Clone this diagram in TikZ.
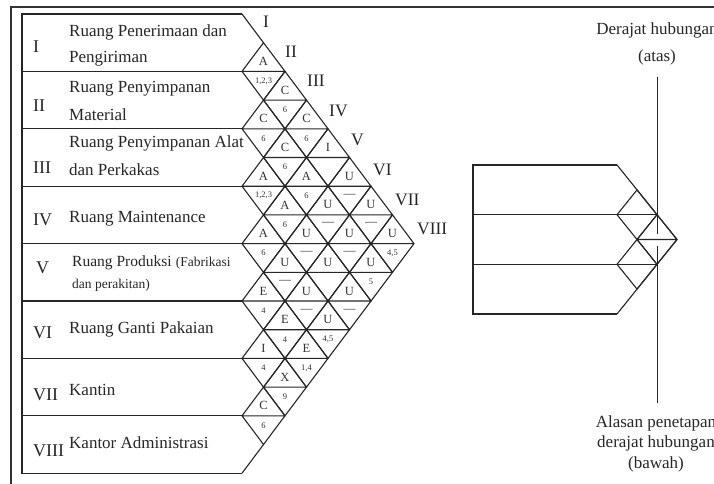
\documentclass[tikz,border=0pt]{standalone}
\usepackage{fontspec}
\setmainfont{Liberation Serif}
\newcommand\arcdash{\raisebox{-1pt}{\fontsize{12}{12}\selectfont —}}
\begin{document}
\begin{tikzpicture}[x=1pt,y=-1pt,
  ln/.style={line width=1.1pt, draw=black!85, line join=miter},
  thinln/.style={line width=0.9pt, draw=black!85},
  rowtxt/.style={anchor=base west, inner sep=0, text=black!85, font=\fontsize{17}{20}\selectfont},
  numtxt/.style={anchor=base west, inner sep=0, text=black!85, font=\fontsize{18}{20}\selectfont},
  coltxt/.style={anchor=base west, inner sep=0, text=black!85, font=\fontsize{17.5}{20}\selectfont},
  rel/.style={inner sep=0, text=black!80, font=\fontsize{12.5}{13}\selectfont},
  why/.style={inner sep=0, text=black!80, font=\fontsize{8.5}{9}\selectfont},
  side/.style={anchor=base, inner sep=0, text=black!85, font=\fontsize{17}{20}\selectfont}]
\useasboundingbox (0,0) rectangle (714,484);
\fill[white] (0,0) rectangle (714,484);
% outer frame
\draw[line width=1.8pt, black!80] (11,495) -- (11,7) -- (725,7);
% row box
\draw[ln] (242,14) -- (22,14) -- (22,473.2) -- (242,473.2);
\foreach \k in {1,...,7} \draw[ln] (22,14+57.4*\k) -- (242,14+57.4*\k);
% outer edges of the chart
\draw[ln] (242,14) -- (263.5,42.7);
\draw[ln] (242,473.2) -- (263.5,444.5);
% diamonds
\foreach \i/\j/\rl/\rs in {1/2/A/{1,2,3}, 1/3/C/6, 1/4/C/6, 1/5/I/{}, 1/6/U/\arcdash, 1/7/U/\arcdash, 1/8/U/{4,5},
  2/3/C/6, 2/4/C/6, 2/5/A/6, 2/6/U/\arcdash, 2/7/U/\arcdash, 2/8/U/5,
  3/4/A/{1,2,3}, 3/5/A/6, 3/6/U/\arcdash, 3/7/U/{}, 3/8/U/\arcdash,
  4/5/A/6, 4/6/U/\arcdash, 4/7/U/\arcdash, 4/8/U/{4,5},
  5/6/E/4, 5/7/E/4, 5/8/E/{1,4},
  6/7/I/4, 6/8/X/9,
  7/8/C/6}{
  \pgfmathsetmacro\cx{242+21.5*(\j-\i)}
  \pgfmathsetmacro\cy{14+28.7*(\i+\j-1)}
  \draw[ln] (\cx-21.5,\cy) -- (\cx,\cy-28.7) -- (\cx+21.5,\cy) -- (\cx,\cy+28.7) -- cycle
            (\cx-21.5,\cy) -- (\cx+21.5,\cy);
  \node[rel] (t\i\j) at (\cx,\cy-10) {\rl};
  \node[why] (b\i\j) at (\cx,\cy+9.5) {\rs};
}
% column labels
\foreach \k/\r in {1/I,2/II,3/III,4/IV,5/V,6/VI,7/VII,8/VIII}
  \node[coltxt] (c\k) at (263+22*\k-22, 28+29.5*\k-29.5) {\r};
% row labels
\node[numtxt] (n1) at (33,53) {I};
\node[rowtxt] (r1a) at (69,37) {Ruang Penerimaan dan};
\node[rowtxt] (r1b) at (69,63) {Pengiriman};
\node[numtxt] (n2) at (33,112) {II};
\node[rowtxt] (r2a) at (69,93) {Ruang Penyimpanan};
\node[rowtxt] (r2b) at (69,121) {Material};
\node[numtxt] (n3) at (33,173) {III};
\node[rowtxt] (r3a) at (69,147) {Ruang Penyimpanan Alat};
\node[rowtxt] (r3b) at (69,175) {dan Perkakas};
\node[numtxt] (n4) at (33,225) {IV};
\node[rowtxt] (r4) at (69,222) {Ruang Maintenance};
\node[numtxt] (n5) at (36,273) {V};
\node[rowtxt] (r5a) at (72,266) {{\fontsize{15.5}{16}\selectfont Ruang Produksi} {\fontsize{13.5}{14}\selectfont (Fabrikasi}};
\node[rowtxt,font=\fontsize{13.5}{14}\selectfont] (r5b) at (72,288) {dan perakitan)};
\node[numtxt] (n6) at (33,338) {VI};
\node[rowtxt] (r6) at (69,333) {Ruang Ganti Pakaian};
\node[numtxt] (n7) at (33,400) {VII};
\node[rowtxt] (r7) at (69,395) {Kantin};
\node[numtxt] (n8) at (33,456) {VIII};
\node[rowtxt] (r8) at (69,448) {Kantor Administrasi};
% legend
\draw[ln] (617,165) -- (473,165) -- (473,314) -- (617,314);
\draw[ln] (473,214.7) -- (657,214.7);
\draw[ln] (473,264.3) -- (657,264.3);
\draw[ln] (617,165) -- (677,239.5) -- (617,314);
\draw[ln] (617,214.7) -- (637,189.9) -- (657,214.7) -- (637,239.5) -- cycle;
\draw[ln] (637,239.5) -- (657,214.7) -- (677,239.5) -- (657,264.3) -- cycle (637,239.5) -- (677,239.5);
\draw[ln] (617,264.3) -- (637,239.5) -- (657,264.3) -- (637,289.1) -- cycle;
\node[side] (s1) at (657,35) {Derajat hubungan};
\node[side] (s2) at (657,62) {(atas)};
\node[side] (s3) at (656,427) {Alasan penetapan};
\node[side] (s4) at (656,447.5) {derajat hubungan};
\node[side] (s5) at (656,468) {(bawah)};
\coordinate (vt) at (657,77);
\coordinate (vm1) at (657,233.5);
\coordinate (vm2) at (657,245.5);
\coordinate (vb) at (657,403);
\draw[thinln] (vt) -- (vm1) (vm2) -- (vb);
\end{tikzpicture}
\end{document}
